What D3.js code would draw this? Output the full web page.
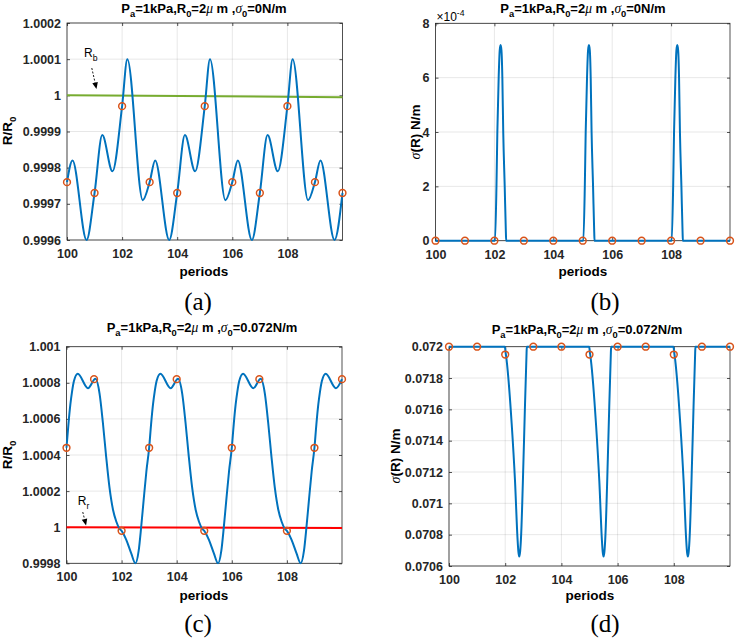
<!DOCTYPE html>
<html><head><meta charset="utf-8">
<script src="https://cdn.jsdelivr.net/npm/d3@7"></script>
<style>body{margin:0;background:#fff}svg{display:block}</style>
</head><body>
<svg id="chart" width="735" height="642"></svg>
<script>
// ---------------- DATA ----------------
const periodTicks = [100, 102, 104, 106, 108];
const periodTickLabels = ["100", "102", "104", "106", "108"];

// (a) R/R0, sigma0 = 0
const aYTicks = [0.9996, 0.9997, 0.9998, 0.9999, 1.0, 1.0001, 1.0002];
const aYTickLabels = ["0.9996", "0.9997", "0.9998", "0.9999", "1", "1.0001", "1.0002"];
const aRadius = [
  [100.00,0.99976],[100.20,0.99982],[100.71,0.99960],[101.00,0.99973],[101.28,0.99989],[101.65,0.99979],[102.00,0.99997],[102.19,1.00010],[102.75,0.99971],
  [103.00,0.99976],[103.20,0.99982],[103.71,0.99960],[104.00,0.99973],[104.28,0.99989],[104.65,0.99979],[105.00,0.99997],[105.19,1.00010],[105.75,0.99971],
  [106.00,0.99976],[106.20,0.99982],[106.71,0.99960],[107.00,0.99973],[107.28,0.99989],[107.65,0.99979],[108.00,0.99997],[108.19,1.00010],[108.75,0.99971],
  [109.00,0.99976],[109.20,0.99982],[109.71,0.99960],[110.00,0.99973]
];
const aMarkers = [[100,0.99976],[101,0.99973],[102,0.99997],[103,0.99976],[104,0.99973],[105,0.99997],[106,0.99976],[107,0.99973],[108,0.99997],[109,0.99976],[110,0.99973]];
const aRb = [[100,1.0],[110,0.999995]];
const aRbLabel = [100.62, 1.000106];
const aRbArrow = [[100.90, 1.0000755], [101.07, 1.0000175]];

// (b) sigma(R), sigma0 = 0
const bYTicks = [0, 2e-4, 4e-4, 6e-4, 8e-4];
const bYTickLabels = ["0", "2", "4", "6", "8"];
const bSigma = [
  [100,0],
  [102.02,0],[102.07,2.0e-4],[102.10,4.0e-4],[102.145,6.0e-4],[102.18,7.0e-4],[102.21,7.2e-4],[102.24,7.0e-4],[102.27,6.0e-4],[102.30,4.0e-4],[102.35,2.0e-4],[102.39,0.3e-4],[102.40,0],
  [105.02,0],[105.07,2.0e-4],[105.10,4.0e-4],[105.145,6.0e-4],[105.18,7.0e-4],[105.21,7.2e-4],[105.24,7.0e-4],[105.27,6.0e-4],[105.30,4.0e-4],[105.35,2.0e-4],[105.39,0.3e-4],[105.40,0],
  [108.02,0],[108.07,2.0e-4],[108.10,4.0e-4],[108.145,6.0e-4],[108.18,7.0e-4],[108.21,7.2e-4],[108.24,7.0e-4],[108.27,6.0e-4],[108.30,4.0e-4],[108.35,2.0e-4],[108.39,0.3e-4],[108.40,0],
  [110,0]
];
const bMarkers = [[100,0],[101,0],[102,0],[103,0],[104,0],[105,0],[106,0],[107,0],[108,0],[109,0],[110,0]];

// (c) R/R0, sigma0 = 0.072
const cYTicks = [0.9998, 1.0, 1.0002, 1.0004, 1.0006, 1.0008, 1.001];
const cYTickLabels = ["0.9998", "1", "1.0002", "1.0004", "1.0006", "1.0008", "1.001"];
const cRadius = [
  [100.00,1.00044],[100.07,1.00057],[100.14,1.00068],[100.20,1.00075],[100.27,1.00081],[100.41,1.00085],[100.78,1.00077],[101.05,1.000822],
  [101.20,1.00074],[101.32,1.00058],[101.44,1.00039],[101.56,1.00022],[101.69,1.000095],[101.81,1.00003],[101.93,0.99999],[102.00,0.99998],
  [102.17,0.99993],[102.35,0.999855],[102.50,0.99980],[102.62,0.99987],[102.71,1.00000],[102.80,1.00015],[102.90,1.00031],
  [103.00,1.00044],[103.07,1.00057],[103.14,1.00068],[103.20,1.00075],[103.27,1.00081],[103.41,1.00085],[103.78,1.00077],[104.05,1.000822],
  [104.20,1.00074],[104.32,1.00058],[104.44,1.00039],[104.56,1.00022],[104.69,1.000095],[104.81,1.00003],[104.93,0.99999],[105.00,0.99998],
  [105.17,0.99993],[105.35,0.999855],[105.50,0.99980],[105.62,0.99987],[105.71,1.00000],[105.80,1.00015],[105.90,1.00031],
  [106.00,1.00044],[106.07,1.00057],[106.14,1.00068],[106.20,1.00075],[106.27,1.00081],[106.41,1.00085],[106.78,1.00077],[107.05,1.000822],
  [107.20,1.00074],[107.32,1.00058],[107.44,1.00039],[107.56,1.00022],[107.69,1.000095],[107.81,1.00003],[107.93,0.99999],[108.00,0.99998],
  [108.17,0.99993],[108.35,0.999855],[108.50,0.99980],[108.62,0.99987],[108.71,1.00000],[108.80,1.00015],[108.90,1.00031],
  [109.00,1.00044],[109.07,1.00057],[109.14,1.00068],[109.20,1.00075],[109.27,1.00081],[109.41,1.00085],[109.78,1.00077],[110.00,1.00082]
];
const cMarkers = [[100,1.00044],[101,1.00082],[102,0.99998],[103,1.00044],[104,1.00082],[105,0.99998],[106,1.00044],[107,1.00082],[108,0.99998],[109,1.00044],[110,1.00082]];
const cRr = [[100,1.0],[110,0.999995]];
const cRrLabel = [100.41, 1.000123];
const cRrArrow = [[100.59, 1.000084], [100.71, 1.00001]];

// (d) sigma(R), sigma0 = 0.072
const dYTicks = [0.0706, 0.0708, 0.071, 0.0712, 0.0714, 0.0716, 0.0718, 0.072];
const dYTickLabels = ["0.0706", "0.0708", "0.071", "0.0712", "0.0714", "0.0716", "0.0718", "0.072"];
const dSigma = [
  [100,0.072],
  [101.99,0.072],[102.01,0.07197],[102.05,0.071915],[102.23,0.07151],[102.35,0.07114],[102.44,0.07077],[102.47,0.07069],[102.50,0.07066],[102.53,0.07069],[102.56,0.07077],[102.67,0.07140],[102.76,0.07196],[102.77,0.072],
  [104.99,0.072],[105.01,0.07197],[105.05,0.071915],[105.23,0.07151],[105.35,0.07114],[105.44,0.07077],[105.47,0.07069],[105.50,0.07066],[105.53,0.07069],[105.56,0.07077],[105.67,0.07140],[105.76,0.07196],[105.77,0.072],
  [107.99,0.072],[108.01,0.07197],[108.05,0.071915],[108.23,0.07151],[108.35,0.07114],[108.44,0.07077],[108.47,0.07069],[108.50,0.07066],[108.53,0.07069],[108.56,0.07077],[108.67,0.07140],[108.76,0.07196],[108.77,0.072],
  [110,0.072]
];
const dMarkers = [[100,0.072],[101,0.072],[102,0.07195],[103,0.072],[104,0.072],[105,0.07195],[106,0.072],[107,0.072],[108,0.07195],[109,0.072],[110,0.072]];

// titles (segments: [text, kind])
const titleZero = [["P"],["a","sub"],["=1kPa,R"],["0","sub"],["=2"],["\u03bc","greek"],[" m ,"],["\u03c3","greek"],["0","sub"],["=0N/m"]];
const titleSurf = [["P"],["a","sub"],["=1kPa,R"],["0","sub"],["=2"],["\u03bc","greek"],[" m ,"],["\u03c3","greek"],["0","sub"],["=0.072N/m"]];
const labelRadius = [["R/R"],["0","sub"]];
const labelSigma = [["\u03c3","greek"],["(R) N/m"]];

// ---------------- DRAWING ----------------
const FONT = "'Liberation Sans', Arial, Helvetica, sans-serif";
const GREEK = "'Liberation Serif', 'DejaVu Serif', serif";
const BLUE = "#0072BD", ORANGE = "#D95319";
const svg = d3.select("#chart");

function richText(g, segs, x, y, size, weight, anchor, rotate) {
  const t = g.append("text").attr("x", x).attr("y", y)
    .attr("font-family", FONT).attr("font-size", size).attr("font-weight", weight)
    .attr("text-anchor", anchor).attr("fill", "#000");
  if (rotate) t.attr("transform", `rotate(${rotate},${x},${y})`);
  let shift = 0;
  segs.forEach(([s, kind]) => {
    const ts = t.append("tspan").text(s);
    const target = kind === "sub" ? size * 0.32 : kind === "sup" ? -size * 0.42 : 0;
    if (target !== shift) { ts.attr("dy", target - shift); shift = target; }
    if (kind === "sub" || kind === "sup") ts.attr("font-size", size * 0.72);
    if (kind === "greek") ts.attr("font-family", GREEK).attr("font-style", "italic").attr("font-weight", "normal").attr("font-size", size * 1.04);
  });
  return t;
}

function arrow(g, x1, y1, x2, y2) {
  const dx = x2 - x1, dy = y2 - y1, L = Math.hypot(dx, dy), ux = dx / L, uy = dy / L;
  const hl = 6.5, hw = 2.8;
  const bx = x2 - ux * hl, by = y2 - uy * hl;
  g.append("line").attr("x1", x1).attr("y1", y1).attr("x2", bx).attr("y2", by)
    .attr("stroke", "#000").attr("stroke-width", 0.9).attr("stroke-dasharray", "2,1.6");
  g.append("path").attr("d", `M${x2},${y2}L${bx - uy * hw},${by + ux * hw}L${bx + uy * hw},${by - ux * hw}Z`).attr("fill", "#000");
}

function panel(p) {
  const g = svg.append("g");
  const x = d3.scaleLinear().domain([100, 110]).range(p.xRange);
  const y = d3.scaleLinear().domain(p.yDomain).range(p.yRange);
  const [x0, x1] = p.xRange, [yb, yt] = p.yRange;

  // grid
  g.append("g").selectAll("line").data(periodTicks).join("line")
    .attr("x1", d => x(d)).attr("x2", d => x(d)).attr("y1", yb).attr("y2", yt)
    .attr("stroke", "#000").attr("stroke-opacity", 0.12).attr("stroke-width", 0.8);
  g.append("g").selectAll("line").data(p.yTicks).join("line")
    .attr("x1", x0).attr("x2", x1).attr("y1", d => y(d)).attr("y2", d => y(d))
    .attr("stroke", "#000").attr("stroke-opacity", 0.12).attr("stroke-width", 0.8);

  // axes
  const styleAxis = (ax) => {
    ax.select(".domain").remove();
    ax.selectAll(".tick line").attr("stroke", "#262626").attr("stroke-width", 0.8);
    ax.selectAll(".tick text").attr("font-family", FONT).attr("font-size", 12.5)
      .attr("font-weight", "bold").attr("fill", "#262626");
  };
  g.append("g").attr("transform", `translate(0,${yb})`)
    .call(d3.axisBottom(x).tickValues(periodTicks).tickFormat((d, i) => periodTickLabels[i]).tickSizeInner(-3).tickSizeOuter(0).tickPadding(9))
    .call(styleAxis);
  g.append("g").attr("transform", `translate(0,${yt})`)
    .call(d3.axisTop(x).tickValues(periodTicks).tickFormat("").tickSizeInner(-3).tickSizeOuter(0))
    .call(styleAxis);
  g.append("g").attr("transform", `translate(${x0},0)`)
    .call(d3.axisLeft(y).tickValues(p.yTicks).tickFormat((d, i) => p.yLabels[i]).tickSizeInner(-3).tickSizeOuter(0).tickPadding(6))
    .call(styleAxis);
  g.append("g").attr("transform", `translate(${x1},0)`)
    .call(d3.axisRight(y).tickValues(p.yTicks).tickFormat("").tickSizeInner(-3).tickSizeOuter(0))
    .call(styleAxis);
  g.append("rect").attr("x", x0).attr("y", yt).attr("width", x1 - x0).attr("height", yb - yt)
    .attr("fill", "none").attr("stroke", "#262626").attr("stroke-width", 0.8);

  // clip
  const cid = "clip" + p.id;
  svg.append("clipPath").attr("id", cid).append("rect")
    .attr("x", x0 - 2).attr("y", yt - 2).attr("width", x1 - x0 + 4).attr("height", yb - yt + 4);
  const line = d3.line().x(d => x(d[0])).y(d => y(d[1])).curve(d3.curveMonotoneX);
  const plot = g.append("g").attr("clip-path", `url(#${cid})`);
  if (p.ref) plot.append("path").attr("d", line(p.ref)).attr("fill", "none").attr("stroke", p.refColor).attr("stroke-width", 2);
  plot.append("path").attr("d", line(p.series)).attr("fill", "none").attr("stroke", BLUE).attr("stroke-width", 2).attr("stroke-linejoin", "round");
  g.append("g").selectAll("circle").data(p.markers).join("circle")
    .attr("cx", d => x(d[0])).attr("cy", d => y(d[1])).attr("r", 3.4)
    .attr("fill", "none").attr("stroke", ORANGE).attr("stroke-width", 1.5);

  // annotation
  if (p.ann) {
    richText(g, [["R"], [p.ann.sub, "sub"]], x(p.ann.label[0]), y(p.ann.label[1]), 12, "normal", "start");
    arrow(g, x(p.ann.arrow[0][0]), y(p.ann.arrow[0][1]), x(p.ann.arrow[1][0]), y(p.ann.arrow[1][1]));
  }
  if (p.exponent) {
    richText(g, [["\u00d710"], ["-4", "sup"]], x0 + 1, yt - 2, 12, "normal", "start");
  }

  // texts
  richText(g, p.title, p.titlePos[0], p.titlePos[1], 13, "bold", "middle");
  richText(g, [["periods"]], p.xlabPos[0], p.xlabPos[1], 13.5, "bold", "middle");
  richText(g, p.ylab, p.ylabPos[0], p.ylabPos[1], 13.5, "bold", "middle", -90);
  g.append("text").attr("x", p.capPos[0]).attr("y", p.capPos[1]).attr("text-anchor", "middle")
    .attr("font-family", "'Liberation Serif', 'DejaVu Serif', serif").attr("font-size", 25).text(p.caption);
}

panel({ id: "a", xRange: [67, 342.5], yRange: [240, 23], yDomain: [0.9996, 1.0002], yTicks: aYTicks, yLabels: aYTickLabels,
  series: aRadius, markers: aMarkers, ref: aRb, refColor: "#77AC30", ann: { sub: "b", label: aRbLabel, arrow: aRbArrow },
  title: titleZero, titlePos: [204, 12.5], xlabPos: [204, 276], ylab: labelRadius, ylabPos: [12, 131], capPos: [198, 310], caption: "(a)" });
panel({ id: "b", xRange: [435.5, 730], yRange: [240.7, 23.3], yDomain: [0, 8e-4], yTicks: bYTicks, yLabels: bYTickLabels,
  series: bSigma, markers: bMarkers, exponent: true,
  title: titleZero, titlePos: [583, 12.5], xlabPos: [583, 276], ylab: labelSigma, ylabPos: [420, 132], capPos: [605, 310], caption: "(b)" });
panel({ id: "c", xRange: [66.5, 342], yRange: [563.3, 346.7], yDomain: [0.9998, 1.001], yTicks: cYTicks, yLabels: cYTickLabels,
  series: cRadius, markers: cMarkers, ref: cRr, refColor: "#ff0000", ann: { sub: "r", label: cRrLabel, arrow: cRrArrow },
  title: titleSurf, titlePos: [202, 332], xlabPos: [204, 600], ylab: labelRadius, ylabPos: [12, 455], capPos: [198, 632], caption: "(c)" });
panel({ id: "d", xRange: [449, 730], yRange: [566, 346.7], yDomain: [0.0706, 0.072], yTicks: dYTicks, yLabels: dYTickLabels,
  series: dSigma, markers: dMarkers,
  title: titleSurf, titlePos: [587, 334], xlabPos: [590, 600], ylab: labelSigma, ylabPos: [400, 456], capPos: [605, 632], caption: "(d)" });
</script>
</body></html>
